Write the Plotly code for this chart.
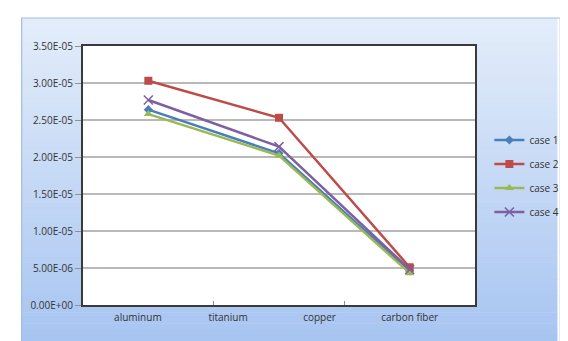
import plotly.graph_objects as go

# ---- data ----
point_index = [0, 1, 2]
case1 = [2.64e-05, 2.05e-05, 4.6e-06]
case2 = [3.03e-05, 2.53e-05, 5.1e-06]
case3 = [2.58e-05, 2.02e-05, 4.3e-06]
case4 = [2.77e-05, 2.14e-05, 4.8e-06]
series_names = ["case 1", "case 2", "case 3", "case 4"]
material_labels = ["aluminum", "titanium", "copper", "carbon fiber"]
y_tick_values = [0, 5e-06, 1e-05, 1.5e-05, 2e-05, 2.5e-05, 3e-05, 3.5e-05]
y_tick_labels = ["0.00E+00", "5.00E-06", "1.00E-05", "1.50E-05",
                 "2.00E-05", "2.50E-05", "3.00E-05", "3.50E-05"]

# ---- layout geometry (pixels) ----
W, H = 568, 341
L, R, T, B = 75, 84, 38, 44
PW = W - L - R
PH = H - T - B


def px2x(px):
    return (px - L) / PW


def px2y(py):
    return (H - B - py) / PH


label_x = [-0.08, 0.61, 1.31, 2.0]  # positions of the overlaid material labels

colors = ["#4a7ebb", "#be4b48", "#98b954", "#7d60a0"]
symbols = ["diamond", "square", "triangle-up", "x-thin"]
sizes = [7, 8, 8, 9]

fig = go.Figure()
for name, vals, c, s, sz in zip(series_names, [case1, case2, case3, case4], colors, symbols, sizes):
    marker = dict(symbol=s, size=sz, color=c)
    if s == "x-thin":
        marker["line"] = dict(color=c, width=1.5)
    fig.add_trace(go.Scatter(
        x=point_index, y=vals, name=name, mode="lines+markers",
        line=dict(color=c, width=2.5), marker=marker, legendgroup=name,
    ))

# background gradient bands
shapes = []
top_c = (0xe3, 0xed, 0xfa)
bot_c = (0xa6, 0xc4, 0xf1)
N = 60
y_start, y_end = 10, H + 2
for i in range(N):
    t = i / (N - 1)
    c = tuple(round(top_c[k] + (bot_c[k] - top_c[k]) * t) for k in range(3))
    py0 = y_start + (y_end - y_start) * i / N
    py1 = y_start + (y_end - y_start) * (i + 1) / N + 0.6
    shapes.append(dict(type="rect", xref="paper", yref="paper", layer="below",
                       x0=px2x(11), x1=px2x(W + 2), y0=px2y(py1), y1=px2y(py0),
                       fillcolor="rgb(%d,%d,%d)" % c, line=dict(width=0)))
shapes.append(dict(type="rect", xref="paper", yref="paper", layer="below",
                   x0=px2x(11), x1=px2x(W + 5), y0=px2y(H + 5), y1=px2y(10),
                   fillcolor="rgba(0,0,0,0)", line=dict(color="#a3bde0", width=1.2)))
shapes.append(dict(type="rect", xref="paper", yref="paper", layer="below",
                   x0=0, x1=1, y0=0, y1=1, fillcolor="white", line=dict(width=0)))

fig.update_layout(
    width=W, height=H,
    margin=dict(l=L, r=R, t=T, b=B),
    paper_bgcolor="white", plot_bgcolor="white",
    font=dict(family="Open Sans, Liberation Sans, sans-serif", size=10, color="#333333"),
    shapes=shapes,
    showlegend=True,
    legend=dict(x=px2x(499), y=px2y(168), xanchor="left", yanchor="middle",
                bgcolor="rgba(0,0,0,0)", font=dict(size=10, color="#333333"),
                tracegroupgap=5, itemwidth=30),
    xaxis=dict(range=[-0.5, 2.5], tickmode="array", tickvals=label_x, ticktext=material_labels,
               ticks="", showgrid=False, zeroline=False, showline=True, mirror=True,
               linecolor="#3a3a3a", linewidth=2.2, ticklabelstandoff=2,
               minor=dict(tickmode="array", tickvals=[0.5, 1.5], ticks="inside",
                          ticklen=4, tickcolor="#909090", showgrid=False)),
    yaxis=dict(range=[0, 3.5e-05], tickmode="array", tickvals=y_tick_values, ticktext=y_tick_labels,
               ticks="outside", ticklen=6, tickcolor="#909090", showgrid=True,
               gridcolor="#b9b9b9", gridwidth=1.5, zeroline=False, showline=True,
               mirror=True, linecolor="#3a3a3a", linewidth=2.2),
)

fig.write_html("out.html")
